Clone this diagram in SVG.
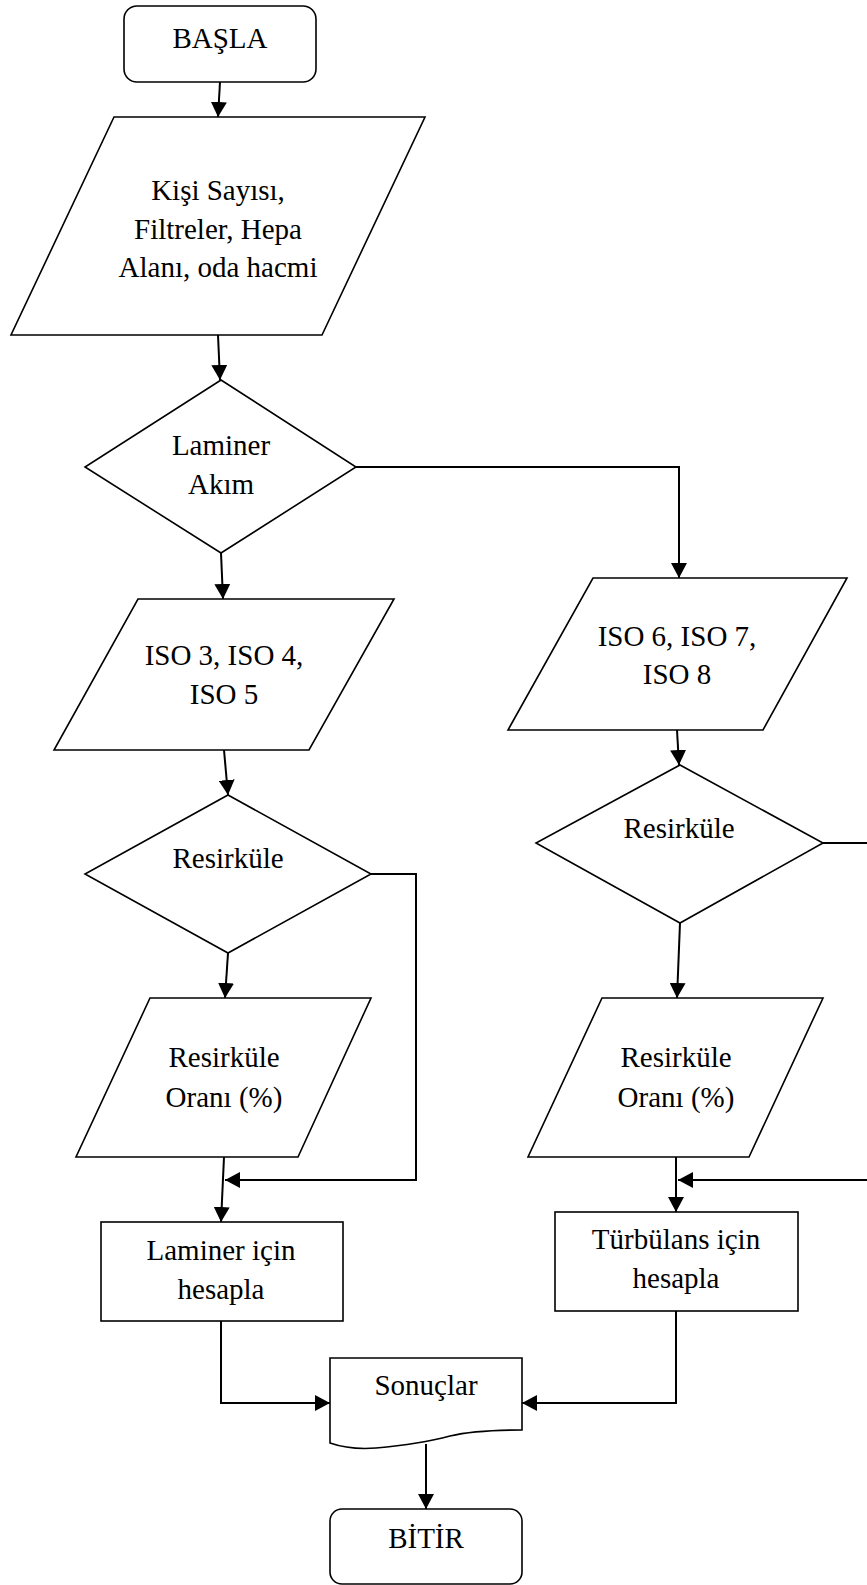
<svg xmlns="http://www.w3.org/2000/svg" width="867" height="1585" viewBox="0 0 867 1585">
<style>
.shape{fill:#fff;stroke:#000;stroke-width:1.6}
.conn{fill:none;stroke:#000;stroke-width:2}
text{font-family:"Liberation Serif","Times New Roman",serif;font-size:29px;fill:#000;text-anchor:middle}
</style>
<defs>
<marker id="arr" viewBox="0 0 15 16" refX="15" refY="8" markerWidth="15" markerHeight="16" markerUnits="userSpaceOnUse" orient="auto">
<path d="M0,0 L15,8 L0,16 Z" fill="#000"/>
</marker>
</defs>
<rect width="867" height="1585" fill="#fff"/>
<g id="connectors">
<path class="conn" d="M220,82 L218,117" marker-end="url(#arr)"/>
<path class="conn" d="M218,335 L220,380" marker-end="url(#arr)"/>
<path class="conn" d="M221,553 L223,599" marker-end="url(#arr)"/>
<path class="conn" d="M356,467 L679,467 L679,578" marker-end="url(#arr)"/>
<path class="conn" d="M224,750 L228,795" marker-end="url(#arr)"/>
<path class="conn" d="M677,730 L679,765" marker-end="url(#arr)"/>
<path class="conn" d="M228,953 L225,998" marker-end="url(#arr)"/>
<path class="conn" d="M680,923 L677,998" marker-end="url(#arr)"/>
<path class="conn" d="M371,874 L416,874 L416,1180 L225,1180" marker-end="url(#arr)"/>
<path class="conn" d="M224,1157 L221,1222" marker-end="url(#arr)"/>
<path class="conn" d="M823,843 L880,843 L880,1180 L678,1180" marker-end="url(#arr)"/>
<path class="conn" d="M676,1157 L676,1212" marker-end="url(#arr)"/>
<path class="conn" d="M221,1321 L221,1403 L330,1403" marker-end="url(#arr)"/>
<path class="conn" d="M676,1311 L676,1403 L522,1403" marker-end="url(#arr)"/>
<path class="conn" d="M426,1444 L426,1509" marker-end="url(#arr)"/>
</g>
<g id="start">
<rect class="shape" x="124" y="6" width="192" height="76" rx="13"/>
<text x="220" y="48">BAŞLA</text>
</g>
<g id="input">
<polygon class="shape" points="114,117 425,117 322,335 11,335"/>
<text x="218" y="200">Kişi Sayısı,</text>
<text x="218" y="239">Filtreler, Hepa</text>
<text x="218" y="277">Alanı, oda hacmi</text>
</g>
<g id="laminer-akim">
<polygon class="shape" points="221,380 356,467 221,553 85,467"/>
<text x="221" y="455">Laminer</text>
<text x="221" y="494">Akım</text>
</g>
<g id="iso345">
<polygon class="shape" points="138,599 394,599 309,750 54,750"/>
<text x="224" y="665">ISO 3, ISO 4,</text>
<text x="224" y="704">ISO 5</text>
</g>
<g id="iso678">
<polygon class="shape" points="593,578 847,578 763,730 508,730"/>
<text x="677" y="646">ISO 6, ISO 7,</text>
<text x="677" y="684">ISO 8</text>
</g>
<g id="resirkule-left">
<polygon class="shape" points="228,795 371,874 228,953 85,874"/>
<text x="228" y="868">Resirküle</text>
</g>
<g id="resirkule-right">
<polygon class="shape" points="680,765 823,843 680,923 536,843"/>
<text x="679" y="838">Resirküle</text>
</g>
<g id="oran-left">
<polygon class="shape" points="150,998 371,998 298,1157 76,1157"/>
<text x="224" y="1067">Resirküle</text>
<text x="224" y="1107">Oranı (%)</text>
</g>
<g id="oran-right">
<polygon class="shape" points="602,998 823,998 749,1157 528,1157"/>
<text x="676" y="1067">Resirküle</text>
<text x="676" y="1107">Oranı (%)</text>
</g>
<g id="laminer-hesapla">
<rect class="shape" x="101" y="1222" width="242" height="99"/>
<text x="221" y="1260">Laminer için</text>
<text x="221" y="1299">hesapla</text>
</g>
<g id="turbulans-hesapla">
<rect class="shape" x="555" y="1212" width="243" height="99"/>
<text x="676" y="1249">Türbülans için</text>
<text x="676" y="1288">hesapla</text>
</g>
<g id="sonuclar">
<path class="shape" d="M330,1358 L522,1358 L522,1430 Q475,1430 450,1436 Q420,1444 376,1448 Q350,1450 330,1443 Z"/>
<text x="426" y="1395">Sonuçlar</text>
</g>
<g id="end">
<rect class="shape" x="330" y="1509" width="192" height="75" rx="12"/>
<text x="426" y="1548">BİTİR</text>
</g>
</svg>
